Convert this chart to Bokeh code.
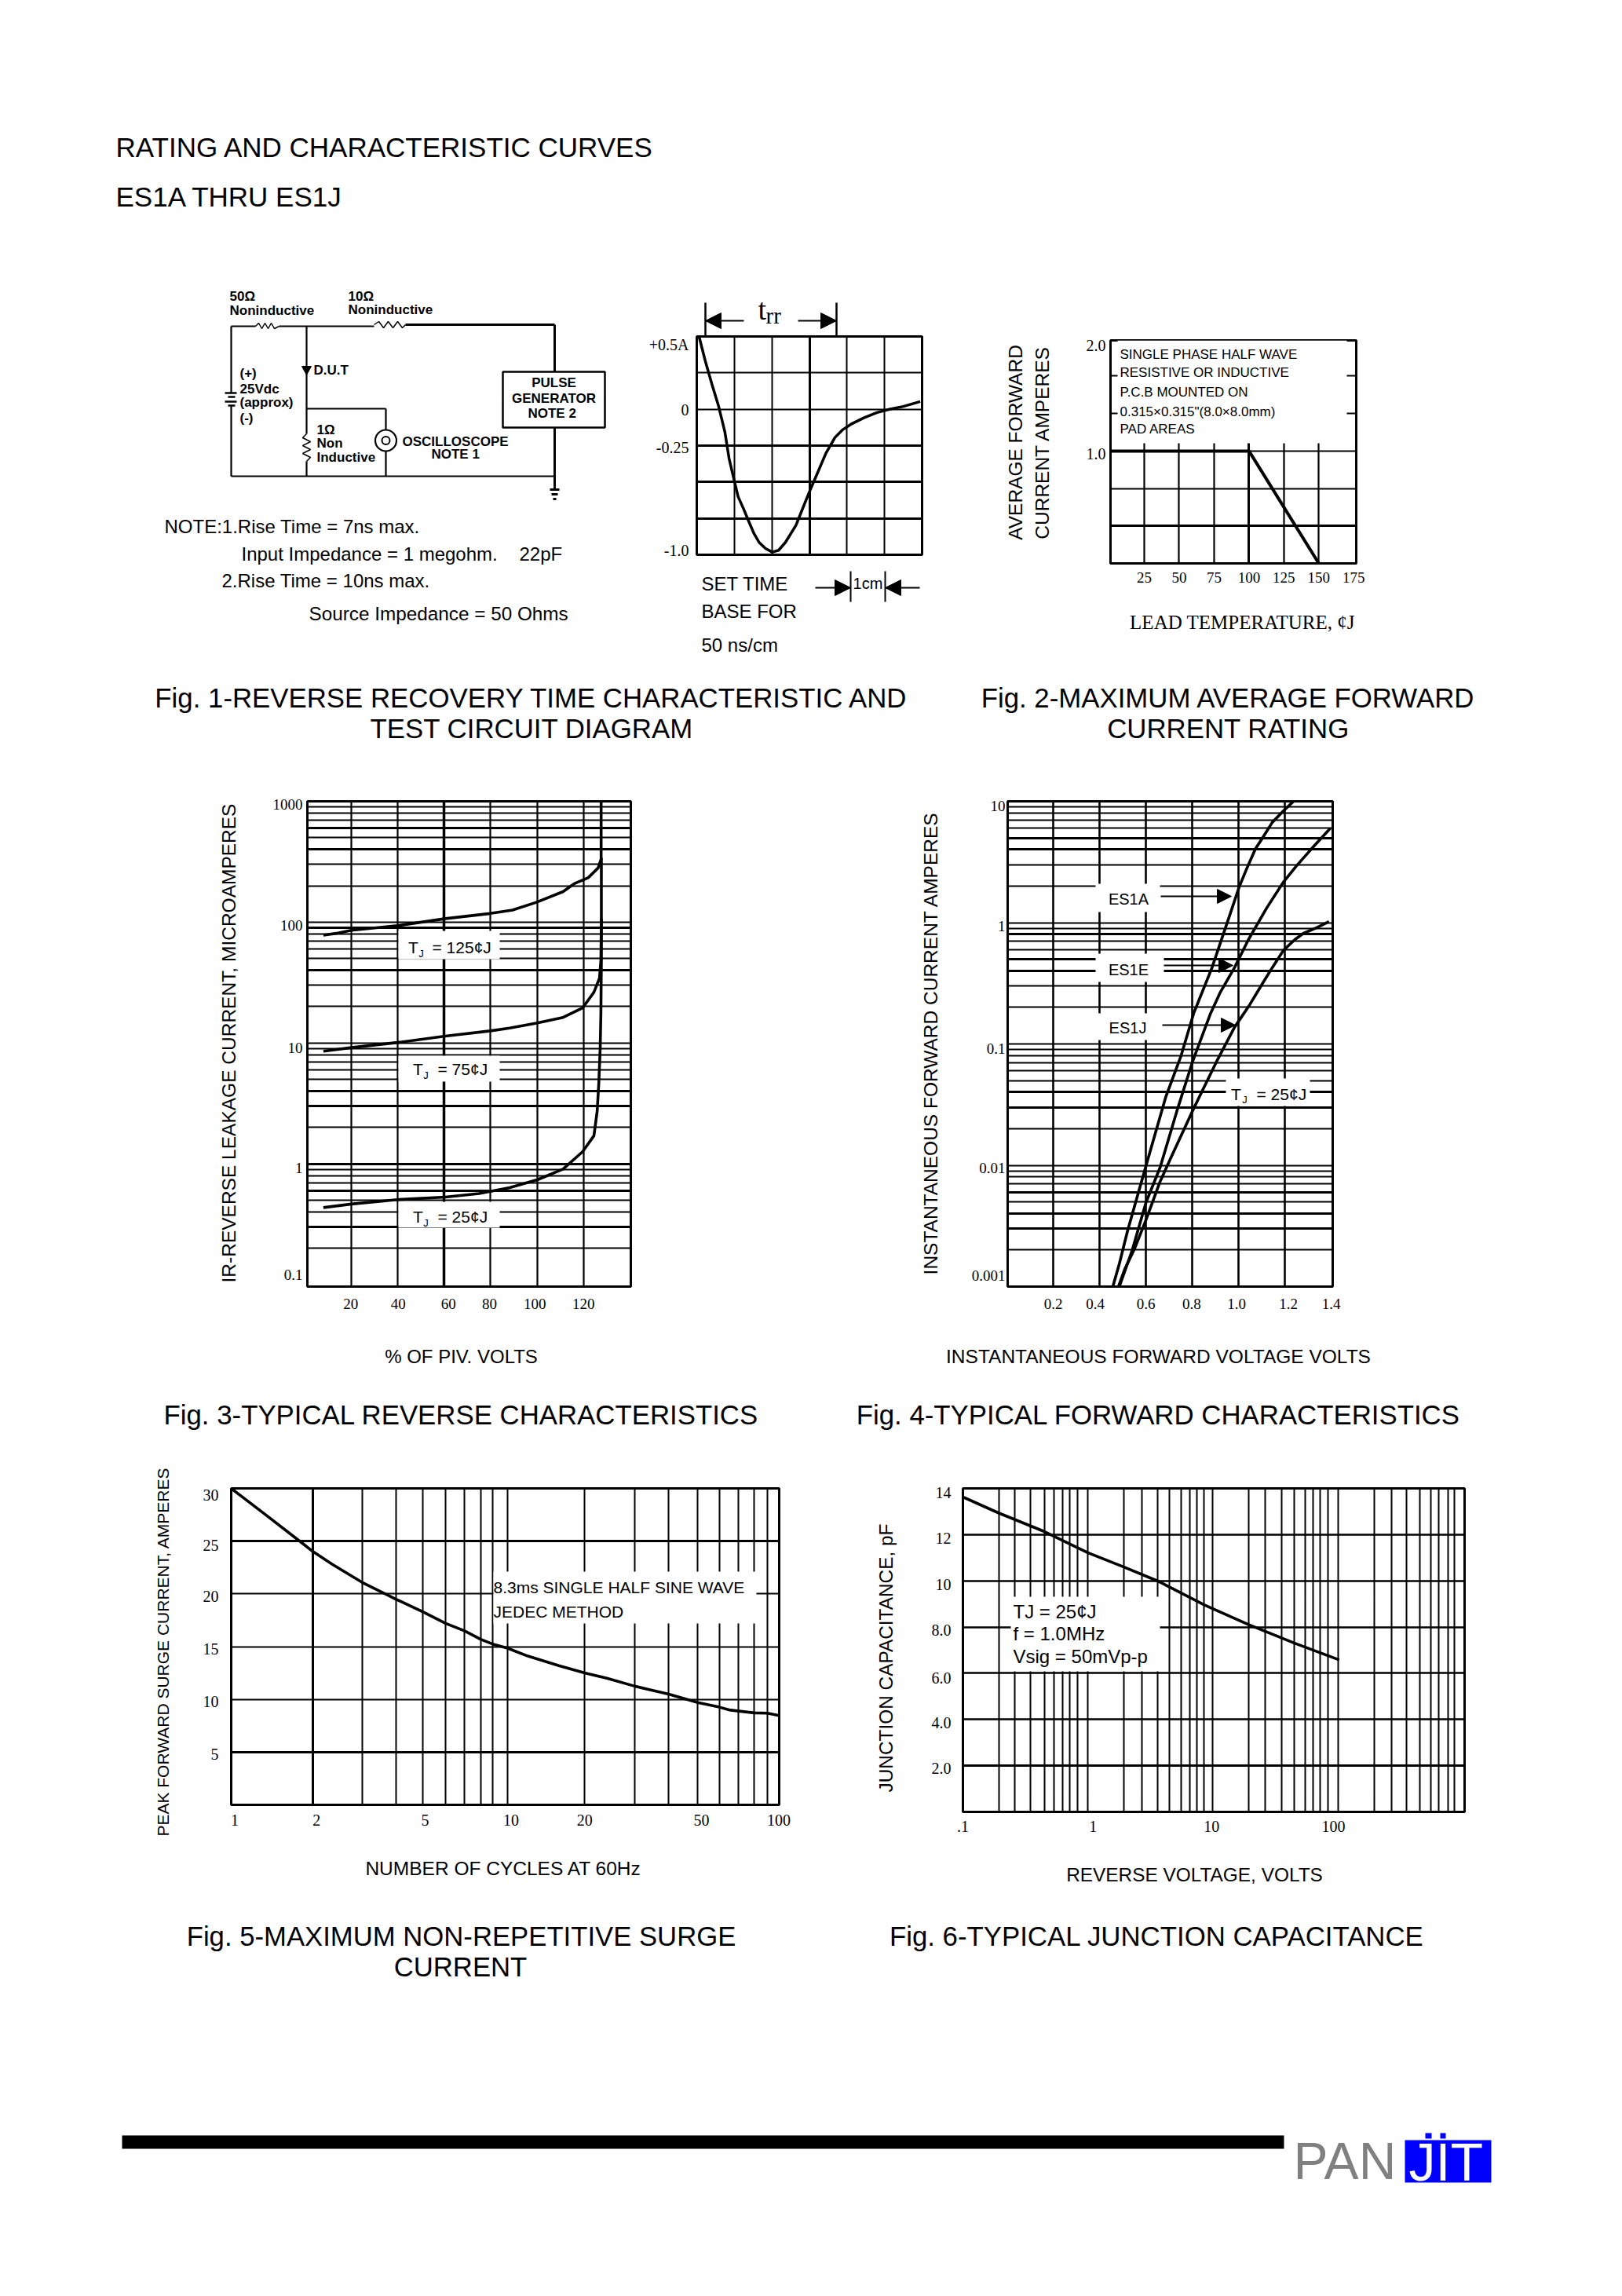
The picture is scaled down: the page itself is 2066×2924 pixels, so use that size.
import math
from bokeh.embed import file_html
from bokeh.resources import INLINE
from bokeh.core.properties import value
from bokeh.layouts import column, row
from bokeh.models import Arrow, FixedTicker, Grid, Label, NormalHead, Range1d
from bokeh.plotting import figure

SANS = "Liberation Sans"
SERIF = "Liberation Serif"

# ---------------------------------------------------------------- chart data
# Fig. 1 reverse recovery trace
trr_x = [0.06, 0.23, 0.40, 0.58, 0.75, 0.86, 1.00, 1.10, 1.24, 1.40, 1.52, 1.66, 1.83, 2.01, 2.18, 2.36, 2.64, 2.99,
         3.20, 3.44, 3.68, 3.89, 4.10, 4.45, 4.80, 5.15, 5.50, 5.95]
trr_y = [0.5, 0.329, 0.175, 0.022, -0.158, -0.338, -0.492, -0.600, -0.681, -0.780, -0.852, -0.915, -0.957, -0.982,
         -0.969, -0.915, -0.798, -0.573, -0.447, -0.302, -0.194, -0.140, -0.104, -0.059, -0.023, 0.001, 0.019, 0.053]
trr_grid_x_thin = [1, 2, 4, 5]
trr_grid_x_thick = [3]
trr_grid_y_thin = [0.25, 0.0]
trr_grid_y_thick = [-0.25, -0.5, -0.75]
trr_tick_at = [0.457, -0.007, -0.261, -0.971]
trr_tick_labels = ["+0.5A", "0", "-0.25", "-1.0"]

# Fig. 2 derating
fig2_x = [0.84, 100, 150]
fig2_y = [1.0, 1.0, 0.0]
fig2_xticks = [25, 50, 75, 100, 125, 150, 175]
fig2_xtick_labels = ["25", "50", "75", "100", "125", "150", "175"]
fig2_ytick_at = [1.937, 0.972]
fig2_ytick_labels = ["2.0", "1.0"]
fig2_grid_x = [25, 50, 75, 125, 150]
fig2_grid_x_thick = [100]
fig2_grid_y = [1.667, 1.333, 1.0, 0.667]
fig2_grid_y_thick = [0.333]

# Fig. 3 reverse characteristics
fig3_125_x = [7.9, 13.4, 20, 39.9, 60.5, 79.8, 89.4, 99.7, 111.2, 116, 122, 126.3, 127.6, 127.6]
fig3_125_y = [78.1, 80.8, 85.7, 93.6, 107, 118, 126, 146, 179, 208, 233, 281, 332, 1000]
fig3_75_x = [7.9, 20, 39.9, 60.5, 79.8, 88.2, 99.7, 111.2, 119.6, 124.5, 126.9, 127.5, 127.7, 127.7]
fig3_75_y = [8.56, 9.17, 10.1, 11.4, 12.6, 13.3, 14.6, 16.3, 19.5, 26.3, 34.4, 48, 107, 340]
fig3_25_x = [7.9, 20, 39.9, 60.5, 75, 88.2, 100.3, 111.2, 119.6, 124.5, 125.9, 126.6, 127.2, 127.5, 127.7, 127.7]
fig3_25_y = [0.435, 0.465, 0.506, 0.531, 0.568, 0.635, 0.741, 0.906, 1.26, 1.71, 2.72, 4.65, 9.05, 17.6, 48, 107]
fig3_grid_x_thin = [20, 40, 80, 100, 120]
fig3_grid_x_thick = [60]
fig3_grid_y_thin = [900, 800, 700, 500, 300, 200, 100, 80, 70, 60, 50, 30, 20, 10, 9, 8, 7, 6, 5, 2, 0.9, 0.8, 0.7,
                    0.5, 0.4, 0.2]
fig3_grid_y_thick = [600, 400, 90, 40, 4, 3, 1, 0.6, 0.3]
fig3_xtick_at = [19.7, 40.2, 61.8, 79.5, 99.0, 120.0]
fig3_xtick_labels = ["20", "40", "60", "80", "100", "120"]
fig3_ytick_at = [936.0, 94.6, 9.1, 0.93, 0.12]
fig3_ytick_labels = ["1000", "100", "10", "1", "0.1"]

# Fig. 4 forward characteristics
es1a_x = [1.2485, 1.194, 1.145, 1.103, 1.073, 1.036, 1.002, 0.964, 0.885, 0.806, 0.752, 0.685, 0.600, 0.521, 0.485,
          0.457]
es1a_y = [10.5, 8.36, 6.7, 4.98, 4.07, 2.82, 1.96, 1.19, 0.425, 0.179, 0.0805, 0.0363, 0.0099, 0.0029, 0.00154, 0.001]
es1e_x = [1.396, 1.315, 1.2485, 1.194, 1.121, 1.042, 0.982, 0.921, 0.879, 0.800, 0.733, 0.661, 0.600, 0.539, 0.485]
es1e_y = [6.0, 4.07, 2.92, 2.17, 1.32, 0.723, 0.425, 0.267, 0.179, 0.0705, 0.0278, 0.0096, 0.00493, 0.00195, 0.001]
es1j_x = [1.390, 1.339, 1.279, 1.242, 1.194, 1.145, 1.103, 1.048, 0.982, 0.903, 0.800, 0.709, 0.661, 0.600, 0.552,
          0.509, 0.481]
es1j_y = [1.02, 0.912, 0.815, 0.723, 0.593, 0.425, 0.315, 0.211, 0.137, 0.0705, 0.0278, 0.0117, 0.00735, 0.00354,
          0.00208, 0.0014, 0.001]
fig4_grid_x = [0.2, 0.4, 0.6, 0.8, 1.0, 1.2]
fig4_grid_y_thin = [9, 8, 7, 6, 3, 2, 1, 0.9, 0.7, 0.6, 0.3, 0.2, 0.1, 0.09, 0.08, 0.07, 0.06, 0.05, 0.02, 0.01,
                    0.009, 0.008, 0.007, 0.005, 0.002]
fig4_grid_y_thick = [5, 4, 0.8, 0.5, 0.4, 0.04, 0.03, 0.006, 0.004, 0.003]
fig4_xtick_at = [0.2, 0.381, 0.6, 0.797, 0.991, 1.215, 1.40]
fig4_xtick_labels = ["0.2", "0.4", "0.6", "0.8", "1.0", "1.2", "1.4"]
fig4_ytick_at = [9.15, 0.94, 0.0914, 0.00955, 0.00123]
fig4_ytick_labels = ["10", "1", "0.1", "0.01", "0.001"]

# Fig. 5 surge current
fig5_x = [1, 1.122, 1.336, 1.798, 1.99, 2.34, 3.0, 3.99, 5.0, 6.06, 7.1, 8.13, 9.1, 10.2, 12.1, 13.6, 15.7, 19.5,
          23.5, 29.7, 33.3, 39.5, 50.5, 60.5, 65.6, 81, 90.6, 99.7]
fig5_y = [30, 29.0, 27.5, 24.9, 24.0, 22.8, 21.1, 19.5, 18.3, 17.2, 16.5, 15.7, 15.2, 14.85, 14.1, 13.7, 13.2, 12.5,
          12.0, 11.25, 10.95, 10.5, 9.7, 9.26, 9.0, 8.72, 8.69, 8.47]
fig5_grid_x = [3.0, 3.99, 5.0, 6.06, 7.1, 8.13, 9.02, 10.2, 19.5, 29.7, 39.5, 50.5, 60.5, 70.8, 81, 90.6]
fig5_grid_x_thick = [1.99]
fig5_grid_y = [20, 15, 10]
fig5_grid_y_thick = [25, 5]
fig5_xtick_at = [1.03, 2.05, 5.1, 10.5, 19.5, 52, 99.7]
fig5_xtick_labels = ["1", "2", "5", "10", "20", "50", "100"]
fig5_ytick_at = [29.4, 24.6, 19.8, 14.8, 9.76, 4.79]
fig5_ytick_labels = ["30", "25", "20", "15", "10", "5"]

# Fig. 6 junction capacitance
fig6_x = [0.1, 0.194, 0.447, 0.99, 1.92, 3.55, 8.4, 18.9, 43.7, 100]
fig6_y = [13.63, 12.93, 12.13, 11.22, 10.6, 10.0, 8.96, 8.11, 7.31, 6.58]
fig6_grid_x = [0.194, 0.259, 0.346, 0.447, 0.535, 0.620, 0.715, 0.822, 0.99, 1.92, 2.67, 3.55, 4.43, 5.5, 6.4, 7.3,
               8.4, 9.8, 18.9, 25.7, 34.9, 43.7, 53.5, 62, 71, 81, 98, 191, 262, 346, 441, 537, 621, 735, 832]
fig6_grid_y = [12, 10, 8, 6, 4]
fig6_grid_y_thick = [2]
fig6_xtick_at = [0.1, 1.09, 9.6, 90]
fig6_xtick_labels = [".1", "1", "10", "100"]
fig6_ytick_at = [13.83, 11.84, 9.84, 7.85, 5.8, 3.85, 1.9]
fig6_ytick_labels = ["14", "12", "10", "8.0", "6.0", "4.0", "2.0"]

# Test circuit schematic (page-space drawing, no data)
wires_x = [[294, 294], [294, 294], [294, 325], [355, 476], [294, 706], [390, 390], [390, 390], [390, 491], [491, 491],
           [491, 491], [390, 390]]
wires_y = [[415, 500], [516, 606], [415, 415], [415, 415], [606, 606], [415, 552], [587, 606], [520, 520], [520, 547],
           [574, 606], [552, 552]]
heavy_x = [[516, 706], [706, 706], [706, 706], [700, 712], [702, 710], [704, 708]]
heavy_y = [[413, 413], [413, 473], [544, 623], [623, 623], [629, 629], [635, 635]]
battery_x = [[286, 301], [290, 299], [286, 301], [290, 299]]
battery_y = [[500, 500], [505, 505], [511, 511], [516, 516]]
res1_x = [325, 329, 333, 337, 341, 345, 349, 355]
res1_y = [415, 411, 418, 411, 418, 411, 418, 415]
res2_x = [476, 482, 488, 494, 500, 506, 512, 516]
res2_y = [413, 409, 417, 409, 417, 409, 417, 413]
res3_x = [390, 385, 395, 385, 395, 385, 395, 390]
res3_y = [552, 557, 562, 567, 572, 577, 582, 587]


# ---------------------------------------------------------------- helpers
class Chart:
    def __init__(self, x0, x1, y0, y1, L, R, T, B, xr, yr, xlog=False, ylog=False):
        self.L, self.R, self.T, self.B, self.xr, self.yr, self.xlog, self.ylog = L, R, T, B, xr, yr, xlog, ylog
        self.p = figure(width=x1 - x0, height=y1 - y0, min_border_left=L - x0, min_border_right=x1 - R,
                        min_border_top=T - y0, min_border_bottom=y1 - B, frame_align=False,
                        x_range=Range1d(*xr), y_range=Range1d(*yr),
                        x_axis_type="log" if xlog else "linear", y_axis_type="log" if ylog else "linear",
                        toolbar_location=None, output_backend="svg")
        p = self.p
        p.background_fill_color = "white"
        p.border_fill_color = "white"
        p.outline_line_color = "black"
        p.outline_line_width = 3
        p.grid.visible = False

    def dx(self, px):
        f = (px - self.L) / (self.R - self.L)
        a, b = self.xr
        if self.xlog:
            return 10 ** (math.log10(a) + f * (math.log10(b) - math.log10(a)))
        return a + f * (b - a)

    def dy(self, py):
        f = (self.B - py) / (self.B - self.T)
        a, b = self.yr
        if self.ylog:
            return 10 ** (math.log10(a) + f * (math.log10(b) - math.log10(a)))
        return a + f * (b - a)

    def grid(self, dim, ticks, width):
        self.p.add_layout(Grid(dimension=dim, ticker=FixedTicker(ticks=ticks), grid_line_color="black",
                               grid_line_width=width))

    def axis(self, ax, at, labels, standoff, size=19):
        ax.ticker = FixedTicker(ticks=at)
        ax.major_label_overrides = dict(zip(at, labels))
        ax.major_tick_line_color = None
        ax.minor_tick_line_color = None
        ax.major_tick_out = 0
        ax.major_tick_in = 0
        ax.minor_tick_out = 0
        ax.minor_tick_in = 0
        ax.axis_line_color = None
        ax.major_label_standoff = standoff
        ax.major_label_text_font = SERIF
        ax.major_label_text_font_size = f"{size}px"
        ax.major_label_text_color = "black"

    def box(self, x0, x1, y0, y1):
        self.p.quad(left=[self.dx(x0)], right=[self.dx(x1)], top=[self.dy(y0)], bottom=[self.dy(y1)],
                    fill_color="white", line_color=None)

    def label(self, px, py, text, size=24, font=SANS, align="center"):
        self.p.add_layout(Label(x=self.dx(px), y=self.dy(py), text=text, text_font=font,
                                text_font_size=f"{size}px", text_align=align, text_baseline="middle",
                                text_color="black"))

    def arrow(self, x0, y0, x1, y1, width=2.0, head=18):
        end = NormalHead(size=head, fill_color="black", line_color="black", line_width=1)
        self.p.add_layout(Arrow(end=end, x_start=self.dx(x0), y_start=self.dy(y0), x_end=self.dx(x1),
                                y_end=self.dy(y1), line_color="black", line_width=width))

    def tj(self, tx, jx, ty, jy, restx, rest):
        self.label(tx, ty, "T", 21)
        self.label(jx, jy, "J", 13)
        self.label(restx, ty, rest, 21, align="left")


def sheet(x0, x1, y0, y1):
    p = figure(width=x1 - x0, height=y1 - y0, min_border=0, frame_align=False,
               x_range=Range1d(x0, x1), y_range=Range1d(y1, y0),
               x_axis_location=None, y_axis_location=None, toolbar_location=None, output_backend="svg")
    p.grid.visible = False
    p.outline_line_color = None
    p.background_fill_color = "white"
    p.border_fill_color = "white"
    return p


def put(p, x, y, text, size=24, font=SANS, align="left", style="normal", color="black", angle=0.0):
    p.text(x=[x], y=[y], text=[text], text_font=value(font), text_font_size=value(f"{size}px"),
           text_align=align, text_baseline="middle", text_font_style=style, text_color=color, angle=angle)


def up(p, x, y, text, size=24.5):
    put(p, x, y, text, size, align="center", angle=math.pi / 2)


def sheet_arrow(p, x0, y0, x1, y1, head=20):
    p.add_layout(Arrow(end=NormalHead(size=head, fill_color="black", line_color="black", line_width=1),
                       x_start=x0, y_start=y0, x_end=x1, y_end=y1, line_color="black", line_width=2))


# ---------------------------------------------------------------- header
head = sheet(0, 2066, 0, 360)
put(head, 147, 187, "RATING AND CHARACTERISTIC CURVES", 35)
put(head, 147, 250, "ES1A THRU ES1J", 35)

# ---------------------------------------------------------------- circuit
cir = sheet(0, 800, 360, 860)
cir.multi_line(wires_x, wires_y, line_color="black", line_width=2.2)
cir.multi_line(heavy_x, heavy_y, line_color="black", line_width=3)
cir.multi_line(battery_x, battery_y, line_color="black", line_width=2.5)
cir.line(res1_x, res1_y, line_color="black", line_width=1.5)
cir.line(res2_x, res2_y, line_color="black", line_width=1.5)
cir.line(res3_x, res3_y, line_color="black", line_width=1.5)
cir.quad(left=[640], right=[770], top=[473], bottom=[544], fill_color="white", line_color="black", line_width=2.5)
cir.patch([384, 396, 390], [466, 466, 477], fill_color="black", line_color="black")
cir.ellipse(x=[491], y=[560.5], width=[27], height=[27], fill_color="white", line_color="black", line_width=2.2)
cir.ellipse(x=[491], y=[560.5], width=[10], height=[10], fill_color="white", line_color="black", line_width=2)
for tx, ty, tt in [(292, 377, "50Ω"), (292, 395, "Noninductive"), (443, 377, "10Ω"), (443, 394, "Noninductive"),
                   (399, 471, "D.U.T"), (305, 475, "(+)"), (305, 495, "25Vdc"), (305, 512, "(approx)"),
                   (305, 532, "(-)"), (403, 547, "1Ω"), (403, 564, "Non"), (403, 582, "Inductive"),
                   (512, 562, "OSCILLOSCOPE")]:
    put(cir, tx, ty, tt, 17, style="bold")
for tx, ty, tt in [(582, 578, "NOTE  1"), (705, 487, "PULSE"), (705, 507, "GENERATOR"), (705, 526, "NOTE  2")]:
    put(cir, tx, ty, tt, 17, align="center", style="bold")
put(cir, 209, 670, "NOTE:1.Rise Time = 7ns max.", 24)
put(cir, 307, 705, "Input Impedance = 1 megohm.", 24)
put(cir, 661, 705, "22pF", 24)
put(cir, 282, 739, "2.Rise Time = 10ns max.", 24)
put(cir, 393, 781, "Source Impedance = 50 Ohms", 24.3)

# ---------------------------------------------------------------- Fig. 1 trace
c1_top = sheet(800, 1230, 360, 427)
c1_top.segment(x0=[898, 1065], y0=[385, 385], x1=[898, 1065], y1=[427, 427], line_color="black", line_width=2.5)
sheet_arrow(c1_top, 947, 408, 898, 408)
sheet_arrow(c1_top, 1016, 408, 1065, 408)
put(c1_top, 965, 393, "t", 38, SERIF)
put(c1_top, 975, 401, "rr", 29, SERIF)

c1 = Chart(800, 1230, 427, 712, 887, 1174, 428, 706, (0, 6), (-1.0, 0.5))
c1.grid(0, trr_grid_x_thin, 2)
c1.grid(0, trr_grid_x_thick, 3)
c1.grid(1, trr_grid_y_thin, 2)
c1.grid(1, trr_grid_y_thick, 3)
c1.p.line(trr_x, trr_y, line_color="black", line_width=3.5)
c1.p.xaxis.visible = False
c1.axis(c1.p.yaxis[0], trr_tick_at, trr_tick_labels, 10, 20)

c1_bot = sheet(800, 1230, 712, 860)
put(c1_bot, 893, 743, "SET TIME", 24)
put(c1_bot, 893, 778, "BASE FOR", 24)
put(c1_bot, 893, 821, "50 ns/cm", 24)
c1_bot.segment(x0=[1083, 1127], y0=[727, 727], x1=[1083, 1127], y1=[766, 766], line_color="black", line_width=2)
sheet_arrow(c1_bot, 1038, 748, 1083, 748)
sheet_arrow(c1_bot, 1171, 748, 1127, 748)
put(c1_bot, 1105, 742, "1cm", 20, align="center")

# ---------------------------------------------------------------- Fig. 2
c2_left = sheet(1230, 1345, 360, 860)
up(c2_left, 1293, 563, "AVERAGE FORWARD")
up(c2_left, 1327, 563, "CURRENT AMPERES")

c2 = Chart(1345, 2066, 360, 755, 1414, 1727, 433, 717, (0.84, 176.8), (0.0, 1.985))
c2.grid(0, fig2_grid_x, 2.2)
c2.grid(0, fig2_grid_x_thick, 3)
c2.grid(1, fig2_grid_y, 2.2)
c2.grid(1, fig2_grid_y_thick, 3)
c2.box(1423, 1715, 433, 564)
c2.p.line(fig2_x, fig2_y, line_color="black", line_width=4)
c2.axis(c2.p.xaxis[0], fig2_xticks, fig2_xtick_labels, 11)
c2.axis(c2.p.yaxis[0], fig2_ytick_at, fig2_ytick_labels, 6, 20)
for ty, tt in [(451, "SINGLE PHASE HALF WAVE"), (474, "RESISTIVE OR INDUCTIVE"), (499, "P.C.B MOUNTED ON"),
               (524, "0.315×0.315\"(8.0×8.0mm)"), (546, "PAD AREAS")]:
    c2.label(1426, ty, tt, 17, align="left")

c2_bot = sheet(1345, 2066, 755, 860)
put(c2_bot, 1582, 792, "LEAD TEMPERATURE, ¢J", 25, SERIF, align="center")

# ---------------------------------------------------------------- caption strip
strip = sheet(0, 2066, 860, 1000)
put(strip, 677, 888, "Fig. 1-REVERSE RECOVERY TIME CHARACTERISTIC AND", 34.8, align="center")
put(strip, 677, 927, "TEST CIRCUIT DIAGRAM", 34.8, align="center")
put(strip, 1564, 888, "Fig. 2-MAXIMUM AVERAGE FORWARD", 34.8, align="center")
put(strip, 1564, 927, "CURRENT RATING", 34.8, align="center")

# ---------------------------------------------------------------- Fig. 3
c3_left = sheet(0, 340, 1000, 1690)
up(c3_left, 291, 1328, "IR-REVERSE LEAKAGE CURRENT, MICROAMPERES")

c3 = Chart(340, 1100, 1000, 1690, 391, 803, 1020, 1638, (1.0, 140.4), (0.0965, 1000), ylog=True)
c3.grid(0, fig3_grid_x_thin, 2.2)
c3.grid(0, fig3_grid_x_thick, 3.5)
c3.grid(1, fig3_grid_y_thin, 1.8)
c3.grid(1, fig3_grid_y_thick, 3)
c3.box(507, 636, 1185, 1221)
c3.box(507, 636, 1344, 1377)
c3.box(507, 636, 1530, 1563)
for xs, ys in [(fig3_125_x, fig3_125_y), (fig3_75_x, fig3_75_y), (fig3_25_x, fig3_25_y)]:
    c3.p.line(xs, ys, line_color="black", line_width=3.6)
c3.axis(c3.p.xaxis[0], fig3_xtick_at, fig3_xtick_labels, 15)
c3.axis(c3.p.yaxis[0], fig3_ytick_at, fig3_ytick_labels, 6)
c3.tj(526, 536, 1206, 1214, 550, "= 125¢J")
c3.tj(532, 542, 1361, 1369, 557, "= 75¢J")
c3.tj(532, 542, 1549, 1557, 557, "= 25¢J")

# ---------------------------------------------------------------- Fig. 4
c4_left = sheet(1100, 1225, 1000, 1690)
up(c4_left, 1185, 1328, "INSTANTANEOUS FORWARD CURRENT AMPERES")

c4 = Chart(1225, 2066, 1000, 1690, 1283, 1697, 1020, 1638, (0.003, 1.406), (0.001, 10), ylog=True)
c4.grid(0, fig4_grid_x, 2.6)
c4.grid(1, fig4_grid_y_thin, 1.8)
c4.grid(1, fig4_grid_y_thick, 3)
c4.box(1395, 1477, 1125, 1161)
c4.box(1395, 1482, 1214, 1250)
c4.box(1395, 1479, 1290, 1324)
c4.box(1561, 1668, 1373, 1408)
for xs, ys in [(es1a_x, es1a_y), (es1e_x, es1e_y), (es1j_x, es1j_y)]:
    c4.p.line(xs, ys, line_color="black", line_width=3.6)
c4.axis(c4.p.xaxis[0], fig4_xtick_at, fig4_xtick_labels, 15)
c4.axis(c4.p.yaxis[0], fig4_ytick_at, fig4_ytick_labels, 3)
c4.label(1437, 1144, "ES1A", 20)
c4.label(1437, 1234, "ES1E", 20)
c4.label(1436, 1308, "ES1J", 20)
c4.arrow(1478, 1141, 1568, 1141)
c4.arrow(1482, 1229, 1570, 1229)
c4.arrow(1480, 1305, 1573, 1305)
c4.tj(1574, 1585, 1393, 1400, 1600, "= 25¢J")

strip2 = sheet(0, 2066, 1690, 1860)
put(strip2, 587, 1727, "% OF PIV. VOLTS", 24, align="center")
put(strip2, 1475, 1727, "INSTANTANEOUS FORWARD VOLTAGE VOLTS", 24.5, align="center")
put(strip2, 587, 1801, "Fig. 3-TYPICAL REVERSE CHARACTERISTICS", 34.8, align="center")
put(strip2, 1475, 1801, "Fig. 4-TYPICAL FORWARD CHARACTERISTICS", 34.8, align="center")

# ---------------------------------------------------------------- Fig. 5
c5_left = sheet(0, 240, 1860, 2340)
up(c5_left, 207, 2103, "PEAK FORWARD SURGE CURRENT, AMPERES", 21)

c5 = Chart(240, 1040, 1860, 2340, 294, 992, 1895, 2298, (1, 100), (0, 30), xlog=True)
c5.grid(0, fig5_grid_x, 2)
c5.grid(0, fig5_grid_x_thick, 3)
c5.grid(1, fig5_grid_y, 2.2)
c5.grid(1, fig5_grid_y_thick, 3)
c5.box(628, 963, 2001, 2067)
c5.p.line(fig5_x, fig5_y, line_color="black", line_width=3.6)
c5.axis(c5.p.xaxis[0], fig5_xtick_at, fig5_xtick_labels, 12, 20)
c5.axis(c5.p.yaxis[0], fig5_ytick_at, fig5_ytick_labels, 16, 20)
c5.label(628, 2021, "8.3ms SINGLE HALF SINE WAVE", 21, align="left")
c5.label(628, 2052, "JEDEC METHOD", 21, align="left")

# ---------------------------------------------------------------- Fig. 6
c6_left = sheet(1040, 1170, 1860, 2340)
up(c6_left, 1128, 2111, "JUNCTION CAPACITANCE, pF", 24.4)

c6 = Chart(1170, 2066, 1860, 2340, 1226, 1865, 1895, 2307, (0.1, 1000), (0, 14), xlog=True)
c6.grid(0, fig6_grid_x, 2)
c6.grid(1, fig6_grid_y, 2.4)
c6.grid(1, fig6_grid_y_thick, 3)
c6.box(1287, 1477, 2033, 2128)
c6.p.line(fig6_x, fig6_y, line_color="black", line_width=3.6)
c6.axis(c6.p.xaxis[0], fig6_xtick_at, fig6_xtick_labels, 11, 20)
c6.axis(c6.p.yaxis[0], fig6_ytick_at, fig6_ytick_labels, 15, 20)
c6.label(1290, 2052, "TJ = 25¢J", 24, align="left")
c6.label(1290, 2080, "f = 1.0MHz", 24, align="left")
c6.label(1290, 2109, "Vsig = 50mVp-p", 24, align="left")

# ---------------------------------------------------------------- footer
foot = sheet(0, 2066, 2340, 2924)
put(foot, 641, 2379, "NUMBER OF CYCLES AT 60Hz", 24.5, align="center")
put(foot, 1521, 2387, "REVERSE VOLTAGE, VOLTS", 24.4, align="center")
put(foot, 587, 2465, "Fig. 5-MAXIMUM NON-REPETITIVE SURGE", 34.7, align="center")
put(foot, 586, 2504, "CURRENT", 34.7, align="center")
put(foot, 1473, 2465, "Fig. 6-TYPICAL JUNCTION CAPACITANCE", 34.8, align="center")
foot.quad(left=[155], right=[1635], top=[2719], bottom=[2736], fill_color="black", line_color=None)
foot.quad(left=[1789], right=[1899], top=[2725], bottom=[2779], fill_color="#0000ff", line_color=None)
foot.quad(left=[1815, 1834], right=[1823, 1841], top=[2716, 2716], bottom=[2723, 2723], fill_color="#0000ff",
          line_color=None)
put(foot, 1647, 2751, "PAN", 66, color="#808080")
put(foot, 1794, 2752, "JIT", 68, color="white")

page = column(
    head,
    row(cir, column(c1_top, c1.p, c1_bot, spacing=0), c2_left, column(c2.p, c2_bot, spacing=0), spacing=0),
    strip,
    row(c3_left, c3.p, c4_left, c4.p, spacing=0),
    strip2,
    row(c5_left, c5.p, c6_left, c6.p, spacing=0),
    foot,
    spacing=0,
)
open("out.html", "w").write(file_html(page, INLINE))
